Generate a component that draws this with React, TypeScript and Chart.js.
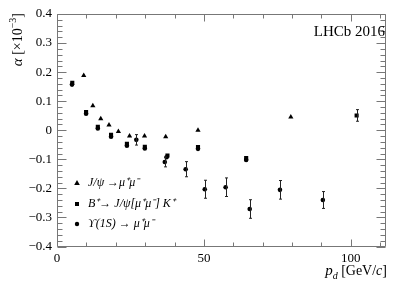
import React, { useEffect, useRef } from 'react';
import { Chart, registerables } from 'chart.js';
Chart.register(...registerables);

// J/psi -> mu+ mu-
const jpsiP = [9.1, 12.2, 14.9, 17.7, 20.9, 24.7, 29.8, 37.0, 48.0, 79.6];
const jpsiAlpha = [0.188, 0.084, 0.04, 0.018, -0.004, -0.02, -0.02, -0.022, 0.0, 0.046];

// B+ -> J/psi K+
const bP = [5.2, 9.9, 13.9, 18.4, 23.8, 29.9, 37.6, 48.0, 64.4, 102.0];
const bAlpha = [0.163, 0.063, 0.012, -0.016, -0.047, -0.057, -0.087, -0.058, -0.096, 0.051];
const bErr = [0, 0, 0, 0, 0, 0, 0, 0, 0, 0.02];

// Upsilon(1S) -> mu+ mu-
const upsP = [5.1, 9.9, 13.9, 18.4, 23.8, 29.9, 37.3, 48.0, 64.4, 27.0, 36.7, 43.8, 50.3, 57.4, 65.6, 75.9, 90.5];
const upsAlpha = [0.157, 0.057, 0.006, -0.022, -0.053, -0.063, -0.093, -0.064, -0.102, -0.033, -0.109, -0.134, -0.203, -0.196, -0.271, -0.205, -0.24];
const upsErr = [0, 0, 0, 0, 0, 0, 0, 0, 0, 0.018, 0.017, 0.026, 0.031, 0.032, 0.032, 0.032, 0.029];

const xTickLabels = [0, 50, 100];
const yTickValues = [-0.4, -0.3, -0.2, -0.1, 0, 0.1, 0.2, 0.3, 0.4];

const legendLabels = ['J/\u03C8 \u2192\u03BC\u207A\u03BC\u207B', 'B\u207A\u2192 J/\u03C8[\u03BC\u207A\u03BC\u207B] K\u207A', '\u03D2(1S) \u2192 \u03BC\u207A\u03BC\u207B'];
const legendStyles = ['triangle', 'rect', 'circle'];

const SERIF = '"Liberation Serif", "Times New Roman", Tinos, Times, serif';

const errorBars = {
  id: 'errorBars',
  afterDatasetsDraw(chart: any) {
    const { ctx, scales } = chart;
    const y = scales.y;
    ctx.save();
    ctx.strokeStyle = '#222';
    ctx.lineWidth = 1;
    chart.data.datasets.forEach((ds: any, di: number) => {
      const errs = ds.errs as number[] | undefined;
      if (!errs) return;
      const meta = chart.getDatasetMeta(di);
      meta.data.forEach((pt: any, i: number) => {
        const e = errs[i];
        if (!e) return;
        const v = ds.data[i].y;
        const px = Math.round(pt.x) + 0.5;
        const y1 = y.getPixelForValue(v + e);
        const y2 = y.getPixelForValue(v - e);
        ctx.beginPath();
        ctx.moveTo(px, y1);
        ctx.lineTo(px, y2);
        ctx.moveTo(px - 1.5, y1);
        ctx.lineTo(px + 1.5, y1);
        ctx.moveTo(px - 1.5, y2);
        ctx.lineTo(px + 1.5, y2);
        ctx.stroke();
      });
    });
    ctx.restore();
  },
};

const frame = {
  id: 'frame',
  afterDraw(chart: any) {
    const { ctx, chartArea, scales } = chart;
    const { left, right, top, bottom } = chartArea;
    const x = scales.x;
    const y = scales.y;
    ctx.save();
    ctx.strokeStyle = '#777';
    ctx.lineWidth = 1;
    const L = Math.round(left) + 0.5;
    const R = Math.round(right) - 0.5;
    const T = Math.round(top) + 0.5;
    const B = Math.round(bottom) - 0.5;
    ctx.beginPath();
    ctx.rect(L, T, R - L, B - T);
    ctx.stroke();
    ctx.beginPath();
    for (let i = 0; i <= 11; i++) {
      const v = i * 10;
      const px = Math.round(x.getPixelForValue(v)) + 0.5;
      const len = v % 50 === 0 ? 7 : 4;
      ctx.moveTo(px, B);
      ctx.lineTo(px, B - len);
      ctx.moveTo(px, T);
      ctx.lineTo(px, T + len);
    }
    for (let i = -20; i <= 20; i++) {
      const v = i * 0.02;
      const py = Math.round(y.getPixelForValue(v)) + 0.5;
      const len = i % 5 === 0 ? 9 : 5;
      ctx.moveTo(L, py);
      ctx.lineTo(L + len, py);
      ctx.moveTo(R, py);
      ctx.lineTo(R - len, py);
    }
    ctx.stroke();

    // texts
    ctx.fillStyle = '#000';
    ctx.textBaseline = 'alphabetic';
    // LHCb label
    ctx.font = `15px ${SERIF}`;
    ctx.textAlign = 'right';
    ctx.fillText('LHCb 2016', 385, 36);

    // x title: p_d [GeV/c]
    ctx.textAlign = 'left';
    const parts: [string, string, number][] = [
      ['p', `italic 15px ${SERIF}`, 0],
      ['d', `italic 10px ${SERIF}`, 4],
      [' [GeV/', `14px ${SERIF}`, 0],
      ['c', `italic 14px ${SERIF}`, 0],
      [']', `14px ${SERIF}`, 0],
    ];
    let tw = 0;
    parts.forEach(([t, f]) => { ctx.font = f; tw += ctx.measureText(t).width; });
    let cx = 387 - tw;
    parts.forEach(([t, f, dy]) => {
      ctx.font = f;
      ctx.fillText(t, cx, 275 + dy);
      cx += ctx.measureText(t).width;
    });

    // y title: alpha [x10^-3]
    const yparts: [string, string, number][] = [
      ['\u03B1', `italic 15px ${SERIF}`, 0],
      [' [\u00D710', `14px ${SERIF}`, 0],
      ['\u22123', `10px ${SERIF}`, -6],
      [']', `14px ${SERIF}`, 0],
    ];
    let yw = 0;
    yparts.forEach(([t, f]) => { ctx.font = f; yw += ctx.measureText(t).width; });
    ctx.save();
    ctx.translate(22, 0);
    ctx.rotate(-Math.PI / 2);
    let cy = -(13 + yw);
    yparts.forEach(([t, f, dy]) => {
      ctx.font = f;
      ctx.fillText(t, cy, dy);
      cy += ctx.measureText(t).width;
    });
    ctx.restore();

    // legend
    const rows = [183, 204, 224];
    rows.forEach((ry, i) => {
      const mx = 77;
      ctx.fillStyle = '#000';
      ctx.beginPath();
      if (legendStyles[i] === 'triangle') {
        ctx.moveTo(mx, ry - 3);
        ctx.lineTo(mx + 2.8, ry + 2);
        ctx.lineTo(mx - 2.8, ry + 2);
        ctx.closePath();
      } else if (legendStyles[i] === 'rect') {
        ctx.rect(mx - 2, ry - 2, 4, 4);
      } else {
        ctx.arc(mx, ry, 2.2, 0, Math.PI * 2);
      }
      ctx.fill();
      ctx.font = `italic 12px ${SERIF}`;
      ctx.textAlign = 'left';
      ctx.textBaseline = 'middle';
      ctx.fillText(legendLabels[i], 88, ry);
    });
    ctx.restore();
  },
};

export default function App() {
  const ref = useRef<HTMLCanvasElement | null>(null);
  useEffect(() => {
    if (!ref.current) return;
    const pts = (xs: number[], ys: number[]) => xs.map((v, i) => ({ x: v, y: ys[i] }));
    const chart = new Chart(ref.current, {
      type: 'scatter',
      data: {
        datasets: [
          {
            label: legendLabels[0],
            data: pts(jpsiP, jpsiAlpha),
            pointStyle: 'triangle',
            radius: 3,
            backgroundColor: '#000',
            borderColor: '#000',
            borderWidth: 0,
          } as any,
          {
            label: legendLabels[1],
            data: pts(bP, bAlpha),
            errs: bErr,
            pointStyle: 'rect',
            radius: 2.9,
            backgroundColor: '#000',
            borderColor: '#000',
            borderWidth: 0,
          } as any,
          {
            label: legendLabels[2],
            data: pts(upsP, upsAlpha),
            errs: upsErr,
            pointStyle: 'circle',
            radius: 2.3,
            backgroundColor: '#000',
            borderColor: '#000',
            borderWidth: 0,
          } as any,
        ],
      },
      options: {
        animation: false,
        responsive: true,
        maintainAspectRatio: false,
        layout: { padding: { top: 14, right: 21, left: 0, bottom: 0 } },
        plugins: { legend: { display: false }, tooltip: { enabled: false } },
        scales: {
          x: {
            type: 'linear',
            min: 0,
            max: 112,
            grid: { display: false, drawTicks: false },
            border: { display: false },
            afterBuildTicks: (s: any) => { s.ticks = xTickLabels.map((v) => ({ value: v })); },
            afterFit: (s: any) => { s.height = 47.5; },
            ticks: {
              padding: 4,
              color: '#000',
              font: { family: SERIF, size: 13 },
              maxRotation: 0,
              callback: (v: any) => String(v),
            },
          },
          y: {
            type: 'linear',
            min: -0.4,
            max: 0.4,
            grid: { display: false, drawTicks: false },
            border: { display: false },
            afterBuildTicks: (s: any) => { s.ticks = yTickValues.map((v) => ({ value: v })); },
            afterFit: (s: any) => { s.width = 57; },
            ticks: {
              padding: 5,
              color: '#000',
              font: { family: SERIF, size: 13 },
              callback: (v: any) => {
                const n = Number(v);
                if (Math.abs(n) < 1e-9) return '0';
                const s = Math.abs(n).toFixed(1);
                return n < 0 ? '\u2212' + s : s;
              },
            },
          },
        },
      },
      plugins: [errorBars, frame],
    } as any);
    return () => chart.destroy();
  }, []);
  return (
    <div style={{ position: 'absolute', left: 0, top: 0, width: 407, height: 294, background: '#fff' }}>
      <canvas ref={ref} />
    </div>
  );
}
